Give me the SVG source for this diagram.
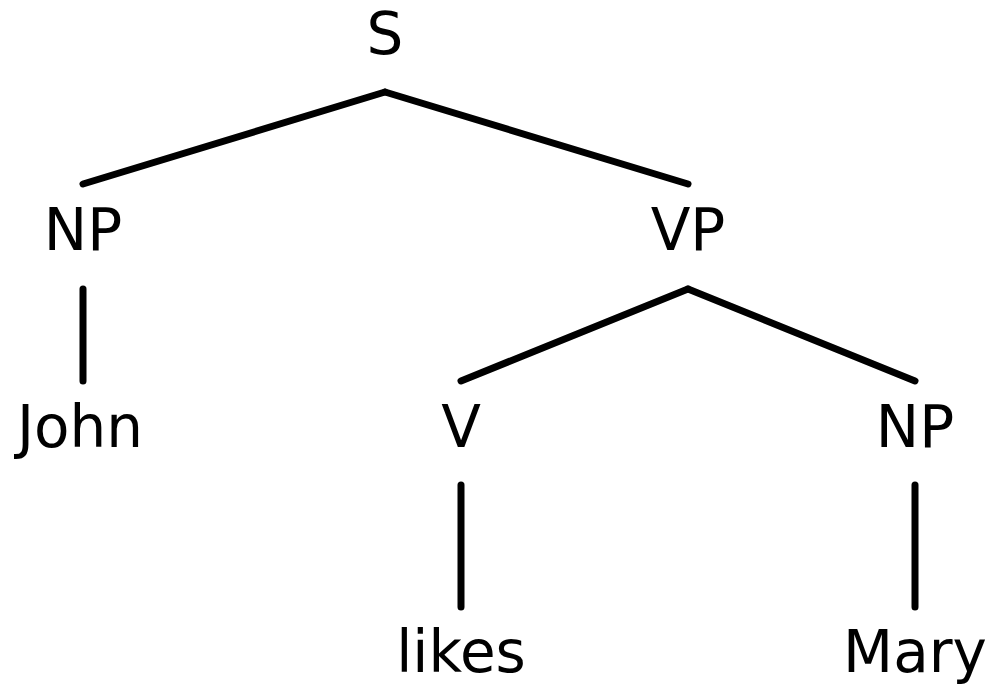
<svg xmlns="http://www.w3.org/2000/svg" width="989" height="686" viewBox="0 0 989 686">
<style>
text{font-family:"DejaVu Sans",sans-serif;font-size:58px;fill:#000;text-anchor:middle}
line{stroke:#000;stroke-width:7;stroke-linecap:round}
</style>
<rect width="989" height="686" fill="#fff"/>
<g id="connectors">
<line x1="385" y1="92" x2="83" y2="184"/>
<line x1="385" y1="92" x2="688" y2="184"/>
<line x1="83" y1="289" x2="83" y2="381"/>
<line x1="688" y1="289" x2="461" y2="381"/>
<line x1="688" y1="289" x2="915" y2="381"/>
<line x1="461" y1="485" x2="461" y2="607"/>
<line x1="915" y1="485" x2="915" y2="607"/>
</g>
<g id="S"><text x="385" y="54">S</text></g>
<g id="NP1"><text x="83" y="250">NP</text></g>
<g id="VP"><text x="688" y="250">VP</text></g>
<g id="John"><text x="80" y="447">John</text></g>
<g id="V"><text x="461" y="447">V</text></g>
<g id="NP2"><text x="915" y="447">NP</text></g>
<g id="likes"><text x="461" y="672">likes</text></g>
<g id="Mary"><text x="915" y="672">Mary</text></g>
</svg>
